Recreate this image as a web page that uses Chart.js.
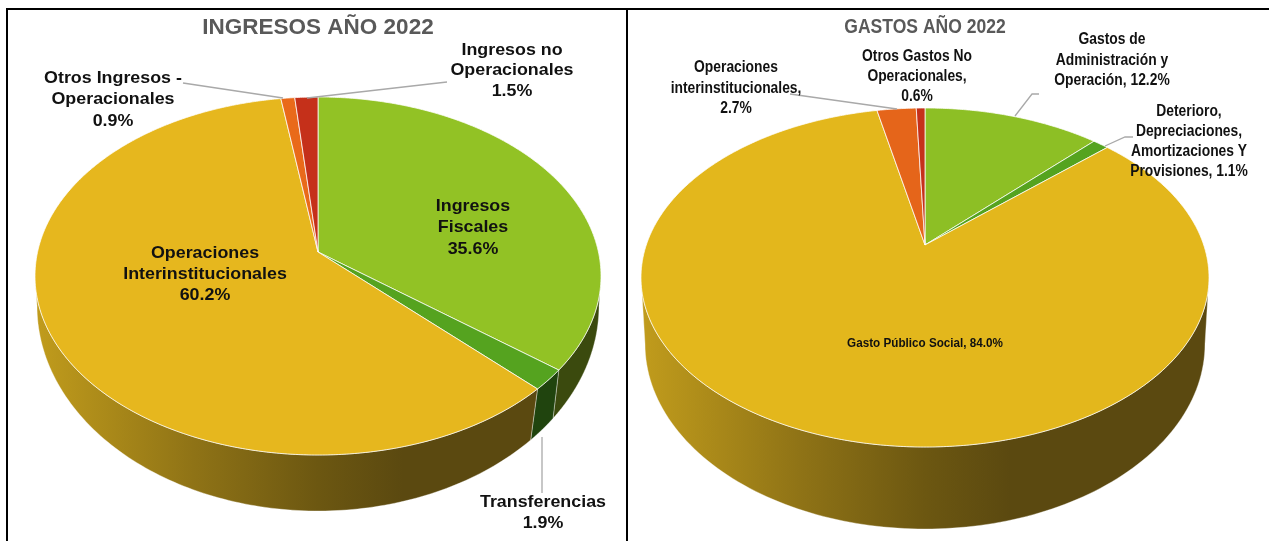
<!DOCTYPE html>
<html lang="es">
<head>
<meta charset="utf-8">
<title>Ingresos y gastos 2022</title>
<script src="https://cdn.jsdelivr.net/npm/chart.js@4"></script>
<style>
    html, body { margin: 0; padding: 0; background: #fff; overflow: hidden; }
    #page { position: relative; width: 1269px; height: 541px; overflow: hidden; }
    canvas { position: absolute; top: 0; filter: blur(0.4px); }
    #izq { left: 0; }
    #der { left: 627px; }
    .linea { position: absolute; background: #000; }
</style>
</head>
<body>
<div id="page">
    <canvas id="izq" width="627" height="541" style="width:627px;height:541px"></canvas>
    <canvas id="der" width="642" height="541" style="width:642px;height:541px"></canvas>
    <div class="linea" style="left:6px;top:8px;width:1263px;height:1.5px"></div>
    <div class="linea" style="left:6px;top:8px;width:14px;height:2px"></div>
    <div class="linea" style="left:613px;top:8px;width:15px;height:2px"></div>
    <div class="linea" style="left:1254px;top:8px;width:15px;height:2px"></div>
    <div class="linea" style="left:6px;top:8px;width:2px;height:533px"></div>
    <div class="linea" style="left:626px;top:8px;width:2px;height:533px"></div>
</div>
<script>
// --- Datos ---
const categoriasIngresos = ["Ingresos Fiscales", "Transferencias", "Operaciones Interinstitucionales", "Otros Ingresos - Operacionales", "Ingresos no Operacionales"];
const valoresIngresos = [35.6, 1.9, 60.2, 0.9, 1.5];
const coloresIngresos = ["#92c225", "#55a31f", "#e6b71e", "#e96a1a", "#c5301a"];
const ladosIngresos = ["#3b4a0e", "#20440e", "amarillo", "#5b4910", "#5b4910"];

const categoriasGastos = ["Gastos de Administración y Operación", "Deterioro, Depreciaciones, Amortizaciones Y Provisiones", "Gasto Público Social", "Operaciones interinstitucionales", "Otros Gastos No Operacionales"];
const valoresGastos = [12.2, 1.1, 84.0, 2.7, 0.6];
const coloresGastos = ["#8dbf25", "#55a31f", "#e3b71c", "#e5651a", "#c5301a"];
const ladosGastos = ["#3b4a0e", "#20440e", "amarillo", "#5b4910", "#5b4910"];

// --- Textos y posiciones (separados de los datos) ---
const etiquetasIngresos = [
    { x: 473, y: 206, gap: 21.5, lineas: ["Ingresos", "Fiscales", "35.6%"] },
    { x: 543, y: 502, gap: 21, lineas: ["Transferencias", "1.9%"] },
    { x: 205, y: 253, gap: 21, lineas: ["Operaciones", "Interinstitucionales", "60.2%"] },
    { x: 113, y: 78, gap: 21.5, lineas: ["Otros Ingresos -", "Operacionales", "0.9%"] },
    { x: 512, y: 50, gap: 20.5, lineas: ["Ingresos no", "Operacionales", "1.5%"] }
];
const guiasIngresos = [
    [[183, 83], [283, 98]],
    [[447, 82], [307, 98]],
    [[542, 437], [542, 493]]
];
const etiquetasGastos = [
    { x: 485, y: 40, gap: 20.5, lineas: ["Gastos de", "Administración y", "Operación, 12.2%"] },
    { x: 562, y: 112, gap: 20, lineas: ["Deterioro,", "Depreciaciones,", "Amortizaciones Y", "Provisiones, 1.1%"] },
    { x: 298, y: 343, gap: 20, lineas: ["Gasto Público Social, 84.0%"], tam: 13.5 },
    { x: 109, y: 68, gap: 20.5, lineas: ["Operaciones", "interinstitucionales,", "2.7%"] },
    { x: 290, y: 57, gap: 20, lineas: ["Otros Gastos No", "Operacionales,", "0.6%"] }
];
const guiasGastos = [
    [[163, 94], [270, 109]],
    [[412, 94], [405, 94], [388, 116]],
    [[506, 137], [498, 137], [478, 146]]
];

// Elipses de la cara superior y de la base
const formaIngresos = { cx: 318, cy: 276, a: 283, b: 179, baseY: 306, baseA: 281, baseB: 205, t: -0.134 };
const formaGastos = { cx: 298, cy: 277.5, a: 284, b: 169.5, baseY: 344, baseA: 280, baseB: 185, t: -0.192 };

// Perspectiva: mueve el centro del disco sobre el eje vertical sin salir del círculo
function proyectar(theta, t) {
    const u = Math.cos(theta), v = Math.sin(theta);
    const d = 1 + t * v;
    return [u * Math.sqrt(1 - t * t) / d, (v + t) / d];
}

const pie3d = {
    id: 'pie3d',
    beforeDatasetsDraw(chart, args, opts) {
        const ctx = chart.ctx;
        const f = opts.forma;
        const arcos = chart.getDatasetMeta(0).data;

        // Lado del pastel
        const grad = ctx.createLinearGradient(f.cx - f.a, 0, f.cx + f.a, 0);
        grad.addColorStop(0, '#c19c1c');
        grad.addColorStop(0.28, '#8f7316');
        grad.addColorStop(0.5, '#6c5711');
        grad.addColorStop(0.65, '#5b4910');
        grad.addColorStop(1, '#5b4910');

        arcos.forEach((arco, i) => {
            const p1 = proyectar(arco.startAngle, f.t);
            const p2 = proyectar(arco.endAngle, f.t);
            let f1 = Math.atan2(p1[1], p1[0]);
            let f2 = Math.atan2(p2[1], p2[0]);
            while (f2 < f1) f2 += Math.PI * 2;
            f1 = Math.max(f1, 0);
            f2 = Math.min(f2, Math.PI);
            if (f2 <= f1) return;
            ctx.beginPath();
            for (let k = 0; k <= 120; k++) {
                const fi = f1 + (f2 - f1) * k / 120;
                ctx.lineTo(f.cx + f.a * Math.cos(fi), f.cy + f.b * Math.sin(fi));
            }
            for (let k = 120; k >= 0; k--) {
                const fi = f1 + (f2 - f1) * k / 120;
                // la base es algo más estrecha, las aristas se inclinan hacia el centro
                const fb = fi + 0.03 * Math.cos(fi) * Math.sin(fi) * 2;
                ctx.lineTo(f.cx + f.baseA * Math.cos(fb), f.baseY + f.baseB * Math.sin(fb));
            }
            ctx.closePath();
            ctx.fillStyle = opts.lados[i] === 'amarillo' ? grad : opts.lados[i];
            ctx.fill();
            ctx.lineWidth = 0.8;
            ctx.strokeStyle = 'rgba(255,255,255,0.45)';
            ctx.stroke();
        });

        // Cara superior, con los ángulos que calcula Chart.js
        const ax = f.cx, ay = f.cy + f.b * f.t;
        arcos.forEach((arco, i) => {
            ctx.beginPath();
            ctx.moveTo(ax, ay);
            const pasos = Math.max(4, Math.ceil((arco.endAngle - arco.startAngle) * 120));
            for (let k = 0; k <= pasos; k++) {
                const th = arco.startAngle + (arco.endAngle - arco.startAngle) * k / pasos;
                const p = proyectar(th, f.t);
                ctx.lineTo(f.cx + f.a * p[0], f.cy + f.b * p[1]);
            }
            ctx.closePath();
            ctx.fillStyle = arco.options.backgroundColor;
            ctx.fill();
            ctx.lineWidth = 1;
            ctx.strokeStyle = 'rgba(255,255,255,0.75)';
            ctx.stroke();
        });
        return false; // ya está dibujado
    },
    afterDraw(chart, args, opts) {
        const ctx = chart.ctx;
        ctx.save();
        // Líneas guía
        ctx.strokeStyle = '#a9a9a9';
        ctx.lineWidth = 1.3;
        opts.guias.forEach(g => {
            ctx.beginPath();
            g.forEach(p => ctx.lineTo(p[0], p[1]));
            ctx.stroke();
        });
        // Título y etiquetas, con el ancho ajustado al original
        ctx.textAlign = 'center';
        ctx.textBaseline = 'middle';
        const texto = (txt, x, y, sx) => {
            ctx.save();
            ctx.translate(x, y);
            ctx.scale(sx, 1);
            ctx.fillText(txt, 0, 0);
            ctx.restore();
        };
        ctx.fillStyle = '#595959';
        ctx.font = 'bold ' + opts.titulo.tam + 'px "Liberation Sans", Arial, sans-serif';
        texto(opts.titulo.texto, opts.titulo.x, opts.titulo.y, opts.titulo.sx);
        ctx.fillStyle = '#111';
        opts.etiquetas.forEach(e => {
            ctx.font = 'bold ' + (e.tam || opts.tam) + 'px "Liberation Sans", Arial, sans-serif';
            e.lineas.forEach((txt, n) => texto(txt, e.x, e.y + n * e.gap, opts.sx));
        });
        ctx.restore();
    }
};

function crearPie(id, categorias, valores, colores, pluginOpts) {
    return new Chart(document.getElementById(id).getContext('2d'), {
        type: 'pie',
        data: {
            labels: categorias,
            datasets: [{ data: valores, backgroundColor: colores, borderWidth: 0 }]
        },
        options: {
            responsive: false,
            animation: false,
            events: [],
            plugins: {
                legend: { display: false },
                tooltip: { enabled: false },
                pie3d: pluginOpts
            }
        },
        plugins: [pie3d]
    });
}

crearPie('izq', categoriasIngresos, valoresIngresos, coloresIngresos, {
    forma: formaIngresos, lados: ladosIngresos, etiquetas: etiquetasIngresos, guias: guiasIngresos,
    titulo: { texto: 'INGRESOS AÑO 2022', x: 318, y: 28, tam: 22.5, sx: 1 },
    tam: 17, sx: 1.05
});

crearPie('der', categoriasGastos, valoresGastos, coloresGastos, {
    forma: formaGastos, lados: ladosGastos, etiquetas: etiquetasGastos, guias: guiasGastos,
    titulo: { texto: 'GASTOS AÑO 2022', x: 298, y: 27, tam: 21, sx: 0.835 },
    tam: 16, sx: 0.865
});
</script>
</body>
</html>
